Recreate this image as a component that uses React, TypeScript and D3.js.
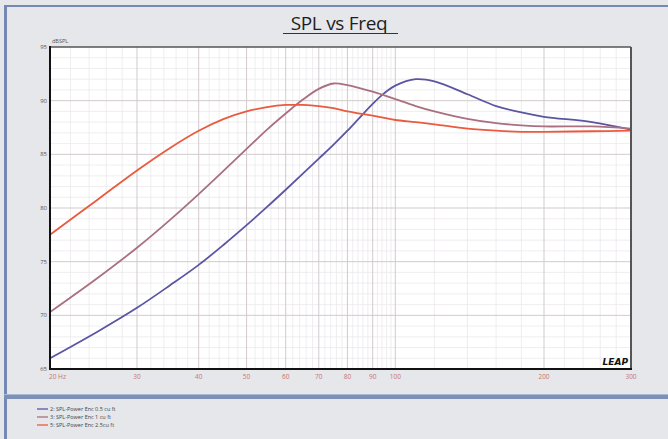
import React, { useEffect, useRef } from "react";
import * as d3 from "d3";

// frequencies (Hz) shared by all three curves
const freqs = [20, 25, 30, 35, 40, 45, 50, 55, 60, 65, 70, 75, 80, 85, 90, 95, 100, 110, 120, 140, 160, 180, 200, 250, 300];

// SPL (dB)
const spl05 = [66.0, 68.5, 70.7, 72.8, 74.7, 76.6, 78.4, 80.1, 81.7, 83.2, 84.6, 85.9, 87.2, 88.5, 89.7, 90.7, 91.4, 92.0, 91.8, 90.6, 89.5, 88.9, 88.5, 88.0, 87.3];
const spl1 = [70.3, 73.5, 76.3, 78.9, 81.3, 83.5, 85.5, 87.3, 88.8, 90.1, 91.1, 91.6, 91.45, 91.15, 90.85, 90.5, 90.15, 89.5, 89.0, 88.3, 87.9, 87.7, 87.6, 87.6, 87.4];
const spl25 = [77.5, 80.8, 83.5, 85.6, 87.2, 88.3, 89.0, 89.4, 89.6, 89.6, 89.5, 89.3, 89.0, 88.8, 88.6, 88.4, 88.2, 88.0, 87.8, 87.4, 87.2, 87.1, 87.1, 87.15, 87.2];

const seriesNames = ["2: SPL-Power Enc 0.5 cu ft", "3: SPL-Power Enc 1 cu ft", "5: SPL-Power Enc 2.5cu ft"];
const seriesColors = ["#5a56a2", "#a9707f", "#ea5a3e"];

const xTicks = [20, 30, 40, 50, 60, 70, 80, 90, 100, 200, 300];
const xTickLabels = ["20 Hz", "30", "40", "50", "60", "70", "80", "90", "100", "200", "300"];
const yTicks = [65, 70, 75, 80, 85, 90, 95];

export default function App() {
    const svgRef = useRef(null);

    useEffect(() => {
        const width = 668;
        const height = 439;
        const left = 50;
        const right = 631;
        const top = 47;
        const bottom = 369;

        const svg = d3.select(svgRef.current)
            .attr("width", width)
            .attr("height", height);
        svg.selectAll("*").remove();

        const x = d3.scaleLog().domain([20, 300]).range([left, right]);
        const y = d3.scaleLinear().domain([65, 95]).range([bottom, top]);

        // panel background + frame
        svg.append("rect").attr("width", width).attr("height", height).attr("fill", "#e5e7eb");
        svg.append("rect").attr("x", 4).attr("y", 5).attr("width", width - 4).attr("height", 2).attr("fill", "#7489b3");
        svg.append("rect").attr("x", 4).attr("y", 5).attr("width", 3).attr("height", height - 5).attr("fill", "#7489b3");
        svg.append("rect").attr("x", 4).attr("y", 394).attr("width", width - 4).attr("height", 5).attr("fill", "#7d91b8");
        svg.append("rect").attr("x", 4).attr("y", 394).attr("width", width - 4).attr("height", 1).attr("fill", "#a9b8d3");

        // title
        svg.append("text")
            .attr("x", 339).attr("y", 30)
            .attr("text-anchor", "middle")
            .attr("font-family", "Open Sans, sans-serif")
            .attr("font-size", 19)
            .attr("letter-spacing", -0.3)
            .attr("fill", "#1e1e1e")
            .text("SPL vs Freq");
        svg.append("line")
            .attr("x1", 283).attr("x2", 398).attr("y1", 33.5).attr("y2", 33.5)
            .attr("stroke", "#333").attr("stroke-width", 1.2);

        // plot area
        svg.append("rect")
            .attr("x", left).attr("y", top)
            .attr("width", right - left).attr("height", bottom - top)
            .attr("fill", "#ffffff");

        const g = svg.append("g");

        // minor grid
        const minorX = [];
        for (let f = 22; f < 100; f += 2) if (f % 10 !== 0) minorX.push(f);
        for (let f = 120; f < 300; f += 20) if (f !== 200) minorX.push(f);
        g.selectAll(".mx").data(minorX).enter().append("line")
            .attr("x1", d => x(d)).attr("x2", d => x(d))
            .attr("y1", top).attr("y2", bottom)
            .attr("stroke", "#ebe9ec").attr("stroke-width", 0.8);
        const minorY = d3.range(66, 95).filter(v => v % 5 !== 0);
        g.selectAll(".my").data(minorY).enter().append("line")
            .attr("x1", left).attr("x2", right)
            .attr("y1", d => y(d)).attr("y2", d => y(d))
            .attr("stroke", "#ebe9ec").attr("stroke-width", 0.8);

        // major grid
        g.selectAll(".Mx").data(xTicks.slice(1, -1)).enter().append("line")
            .attr("x1", d => x(d)).attr("x2", d => x(d))
            .attr("y1", top).attr("y2", bottom)
            .attr("stroke", "#d2cbcd").attr("stroke-width", 1);
        g.selectAll(".My").data(yTicks.slice(1, -1)).enter().append("line")
            .attr("x1", left).attr("x2", right)
            .attr("y1", d => y(d)).attr("y2", d => y(d))
            .attr("stroke", "#d2cbcd").attr("stroke-width", 1);

        // curves
        const line = d3.line()
            .x((d, i) => x(freqs[i]))
            .y(d => y(d))
            .curve(d3.curveCatmullRom.alpha(0.5));
        [spl05, spl1, spl25].forEach((s, i) => {
            g.append("path")
                .attr("d", line(s))
                .attr("fill", "none")
                .attr("stroke", seriesColors[i])
                .attr("stroke-width", 1.8);
        });

        // plot border
        svg.append("line").attr("x1", left).attr("x2", right).attr("y1", top).attr("y2", top)
            .attr("stroke", "#555").attr("stroke-width", 1.5);
        svg.append("line").attr("x1", right).attr("x2", right).attr("y1", top).attr("y2", bottom)
            .attr("stroke", "#555").attr("stroke-width", 2);
        svg.append("line").attr("x1", left).attr("x2", left).attr("y1", top - 1).attr("y2", bottom + 1)
            .attr("stroke", "#111").attr("stroke-width", 2);
        svg.append("line").attr("x1", left - 1).attr("x2", right + 1).attr("y1", bottom).attr("y2", bottom)
            .attr("stroke", "#111").attr("stroke-width", 2.2);

        // y labels
        svg.selectAll(".yl").data(yTicks).enter().append("text")
            .attr("x", left - 3).attr("y", d => y(d) + 2)
            .attr("text-anchor", "end")
            .attr("font-family", "Open Sans, sans-serif")
            .attr("font-size", 6)
            .attr("fill", "#555")
            .text(d => d);
        svg.append("text")
            .attr("x", left + 2).attr("y", top - 4)
            .attr("font-family", "Open Sans, sans-serif")
            .attr("font-size", 5.5)
            .attr("fill", "#555")
            .text("dBSPL");

        // x labels
        svg.selectAll(".xl").data(xTicks).enter().append("text")
            .attr("x", (d, i) => i === 0 ? x(d) - 1 : x(d))
            .attr("y", bottom + 10)
            .attr("text-anchor", (d, i) => i === 0 ? "start" : "middle")
            .attr("font-family", "Open Sans, sans-serif")
            .attr("font-size", 6.5)
            .attr("fill", "#c9766c")
            .text((d, i) => xTickLabels[i]);

        // logo
        svg.append("text")
            .attr("x", right - 3).attr("y", bottom - 4)
            .attr("text-anchor", "end")
            .attr("font-family", "DejaVu Sans, sans-serif")
            .attr("font-weight", "bold")
            .attr("font-style", "italic")
            .attr("font-size", 9)
            .attr("fill", "#111")
            .text("LEAP");

        // legend
        seriesNames.forEach((name, i) => {
            const ly = 409 + i * 8;
            svg.append("line")
                .attr("x1", 37).attr("x2", 48).attr("y1", ly).attr("y2", ly)
                .attr("stroke", seriesColors[i]).attr("stroke-width", 1.3);
            svg.append("text")
                .attr("x", 50).attr("y", ly + 2)
                .attr("font-family", "Open Sans, sans-serif")
                .attr("font-size", 5.5)
                .attr("fill", "#444")
                .text(name);
        });
    }, []);

    return <svg ref={svgRef} style={{ position: "absolute", left: 0, top: 0 }}></svg>;
}
